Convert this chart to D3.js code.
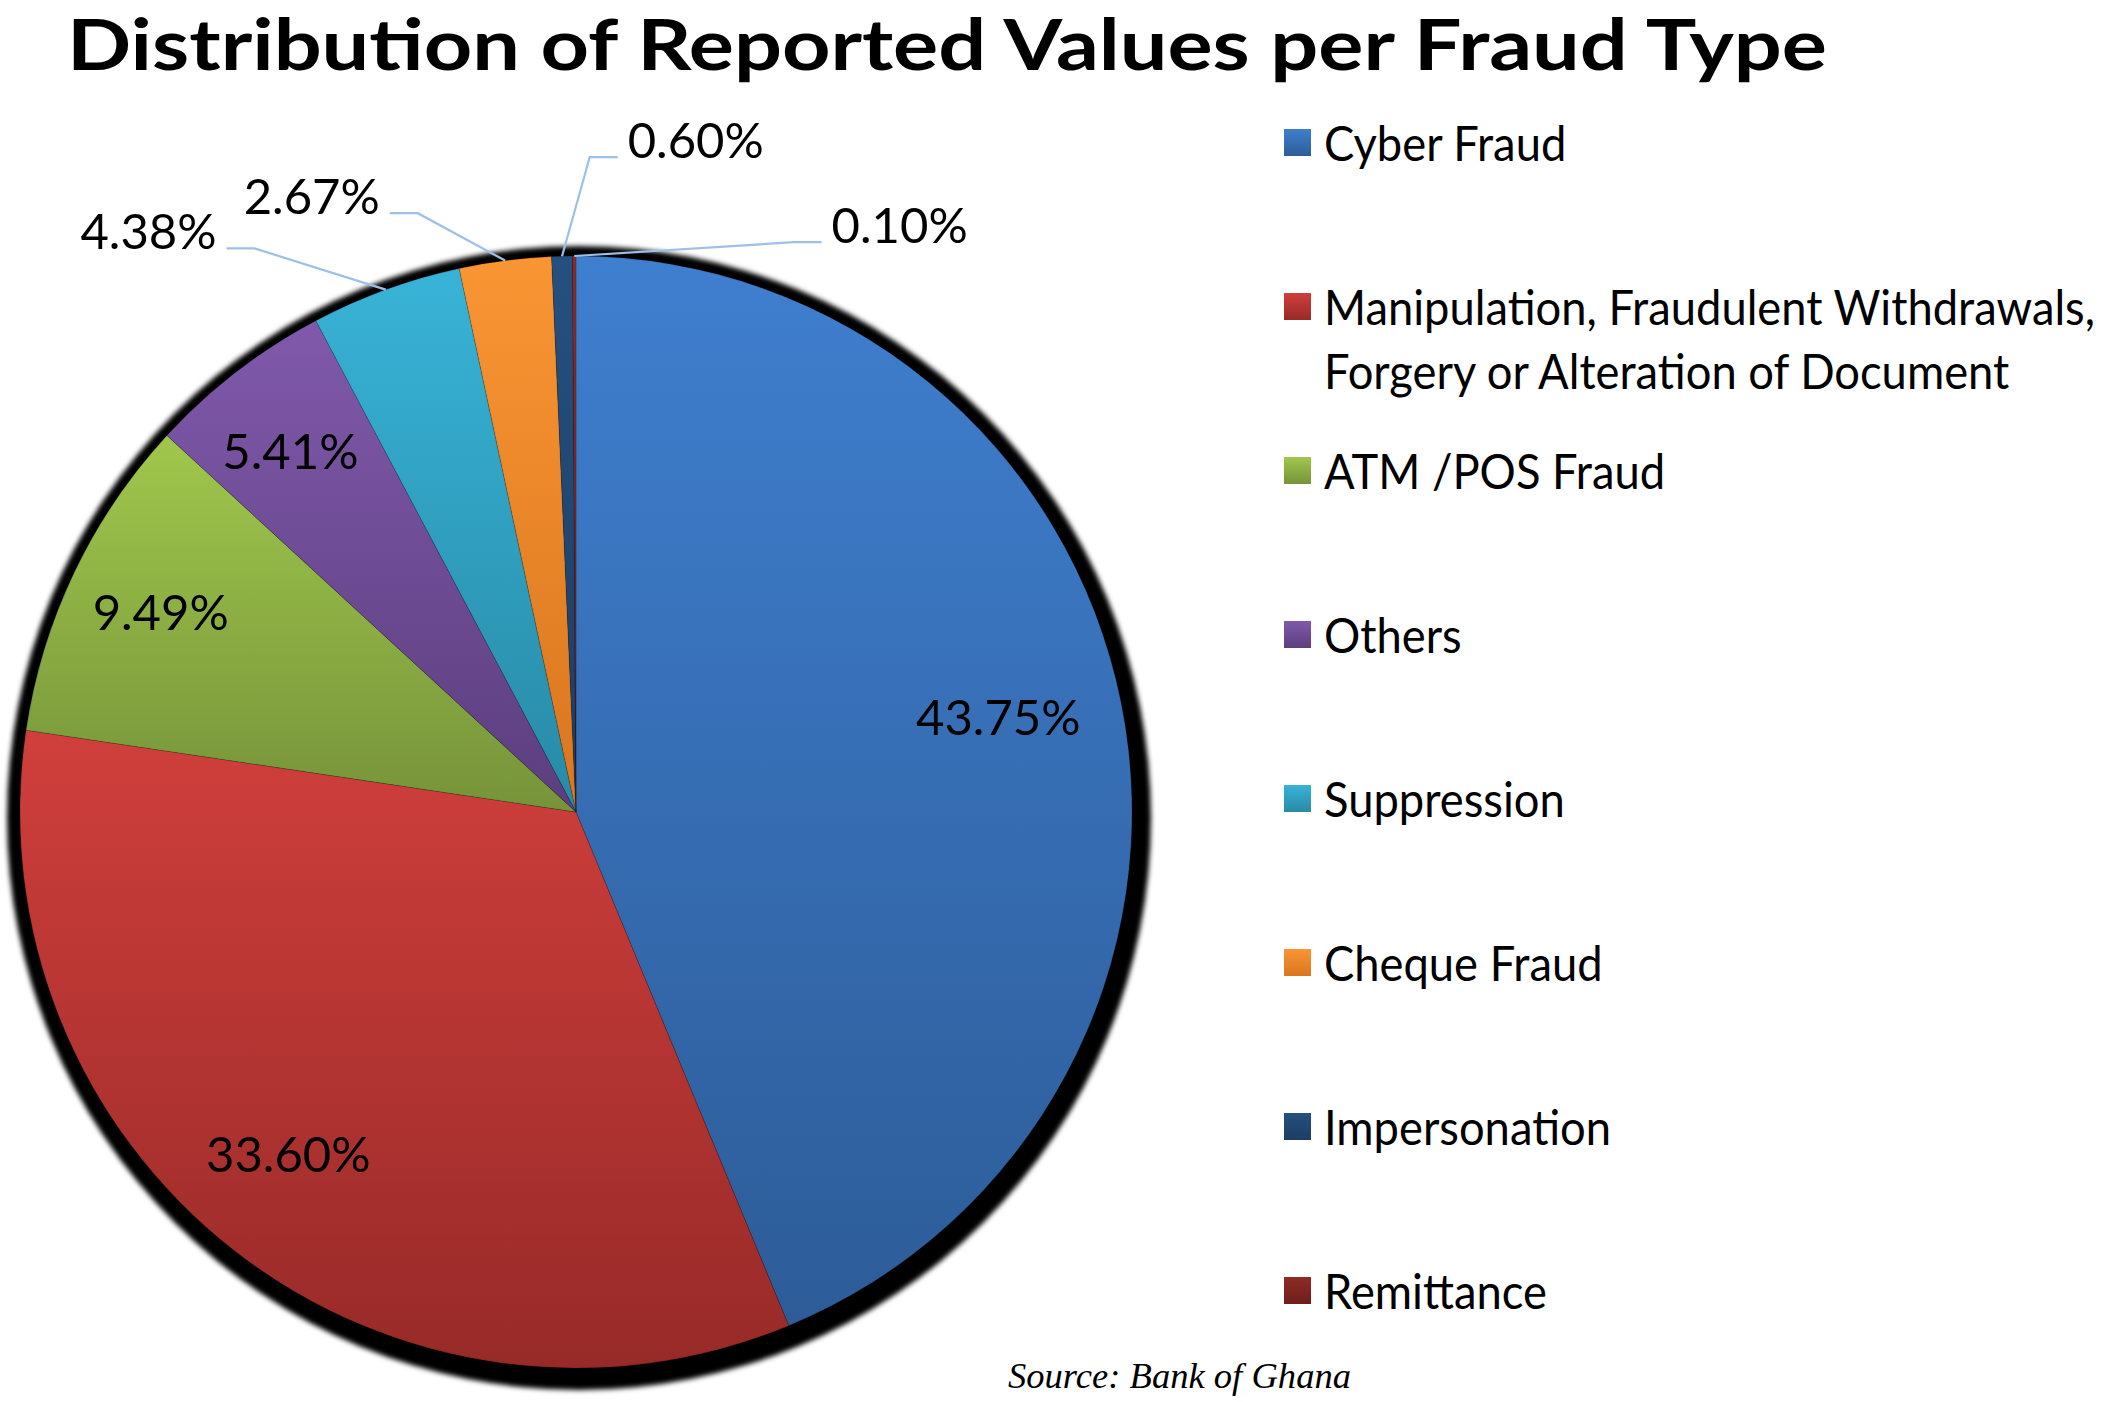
<!DOCTYPE html>
<html>
<head>
<meta charset="utf-8">
<script src="https://cdn.jsdelivr.net/npm/d3@7"></script>
<style>
  html, body { margin: 0; padding: 0; background: #fff; }
  svg { display: block; }
  text { font-family: Lato, "Open Sans", sans-serif; fill: #000; }
</style>
</head>
<body>
<svg id="chart"></svg>
<script>
// ======== DATA ========
const categories = [
    'Cyber Fraud',
    'Manipulation, Fraudulent Withdrawals, Forgery or Alteration of Document',
    'ATM /POS Fraud',
    'Others',
    'Suppression',
    'Cheque Fraud',
    'Impersonation',
    'Remittance'
];
const shares = [43.75, 33.60, 9.49, 5.41, 4.38, 2.67, 0.60, 0.10];
const title = 'Distribution of Reported Values per Fraud Type';
const sourceNote = 'Source: Bank of  Ghana';

// slice colours (gradient top -> bottom)
const colorTop = ['#3f7fcf', '#d03f3c', '#a0c74c', '#8059ab', '#38b3d7', '#f99533', '#25507f', '#8e2a27'];
const colorBottom = ['#2d5c98', '#972a28', '#76933a', '#5c3e7e', '#288aa6', '#d9761f', '#1d3d63', '#6e1e1c'];

// callout (leader line elbow) placement for the small slices, polar: degrees / fraction of radius
const calloutAngle = [null, null, null, null, 330.3, 345.2, 1.2, 20.9];
const calloutRadius = [null, null, null, null, 1.167, 1.114, 1.178, 1.097];

// ======== LAYOUT ========
const W = 2114, H = 1402;
const cx = 576, cy = 812, R = 556;
const FONT = 49;             // labels + legend
const CAP = FONT * 0.72;     // approx cap height for Lato
const CONDENSE = 0.925;      // legend text is a little narrower than Lato

const svg = d3.select('#chart').attr('width', W).attr('height', H).attr('viewBox', [0, 0, W, H]);
const defs = svg.append('defs');

// soft black halo round the pie
const blur = defs.append('filter').attr('id', 'halo').attr('x', '-10%').attr('y', '-10%').attr('width', '120%').attr('height', '120%');
blur.append('feGaussianBlur').attr('stdDeviation', 2.5);

shares.forEach((v, i) => {
    const lg = defs.append('linearGradient').attr('id', 'grad' + i)
        .attr('x1', 0).attr('y1', 0).attr('x2', 0).attr('y2', 1);
    lg.append('stop').attr('offset', '0%').attr('stop-color', colorTop[i]);
    lg.append('stop').attr('offset', '100%').attr('stop-color', colorBottom[i]);
});

// Title
svg.append('text')
    .attr('x', 67).attr('y', 70)
    .attr('font-weight', 700)
    .attr('font-size', 70)
    .attr('textLength', 1760)
    .attr('lengthAdjust', 'spacingAndGlyphs')
    .text(title);

const g = svg.append('g').attr('transform', `translate(${cx},${cy})`);

g.append('circle')
    .attr('cx', 3).attr('cy', 6).attr('r', R + 16)
    .attr('fill', '#000')
    .attr('filter', 'url(#halo)');

const pie = d3.pie().sort(null).value(d => d)(shares);
const arc = d3.arc().innerRadius(0).outerRadius(R);
const labelArc = d3.arc().innerRadius(R * 0.8).outerRadius(R * 0.8);
const edgeArc = d3.arc().innerRadius(R).outerRadius(R);

g.selectAll('path.slice')
    .data(pie)
    .join('path')
    .attr('class', 'slice')
    .attr('d', arc)
    .attr('fill', (d, i) => `url(#grad${i})`)
    .attr('stroke', 'rgba(0,0,0,0.2)')
    .attr('stroke-width', 0.8);

const fmt = v => v.toFixed(2) + '%';

// inside labels
g.selectAll('text.inlabel')
    .data(pie.filter(d => d.value >= 5))
    .join('text')
    .attr('class', 'inlabel')
    .attr('font-size', FONT)
    .attr('text-anchor', 'middle')
    .attr('x', d => labelArc.centroid(d)[0] - 14)
    .attr('y', d => labelArc.centroid(d)[1] + CAP / 2 - 8)
    .text(d => fmt(d.value));

// callouts for the small slices
const polar = (deg, f) => {
    const a = deg * Math.PI / 180;
    return [Math.sin(a) * R * f, -Math.cos(a) * R * f];
};
const small = pie.map((d, i) => ({ d, i })).filter(o => o.d.value < 5);
small.forEach(({ d, i }) => {
    const start = edgeArc.centroid(d);
    const elbow = polar(calloutAngle[i], calloutRadius[i]);
    const side = elbow[0] < 0 ? -1 : 1;
    const tail = [elbow[0] + side * 28, elbow[1]];
    g.append('path')
        .attr('d', d3.line()([start, elbow, tail]))
        .attr('fill', 'none')
        .attr('stroke', '#9dc0e8')
        .attr('stroke-width', 2.2);
    g.append('text')
        .attr('font-size', FONT)
        .attr('text-anchor', side < 0 ? 'end' : 'start')
        .attr('x', tail[0] + side * 10)
        .attr('y', elbow[1] - 17 + CAP / 2)
        .text(fmt(d.value));
});

// Legend
const legendY = d3.scalePoint().domain(d3.range(categories.length)).range([143, 1291]);
const legend = svg.append('g');
categories.forEach((c, i) => {
    const y = legendY(i);
    legend.append('rect')
        .attr('x', 1284).attr('y', y - 14).attr('width', 27).attr('height', 27)
        .attr('fill', `url(#grad${i})`);
    const lines = c.split(/(?<=Withdrawals,) /);
    lines.forEach((ln, k) => {
        legend.append('g')
            .attr('transform', `translate(1324,${y + CAP / 2 + k * 64}) scale(${CONDENSE},1)`)
            .append('text')
            .attr('font-size', FONT)
            .text(ln);
    });
});

// Source note
svg.append('text')
    .attr('x', 1008).attr('y', 1388)
    .style('font-family', '"Liberation Serif", "DejaVu Serif", serif')
    .style('font-style', 'italic')
    .attr('font-size', 36)
    .attr('fill', '#333')
    .attr('textLength', 343)
    .attr('lengthAdjust', 'spacingAndGlyphs')
    .text(sourceNote);
</script>
</body>
</html>
